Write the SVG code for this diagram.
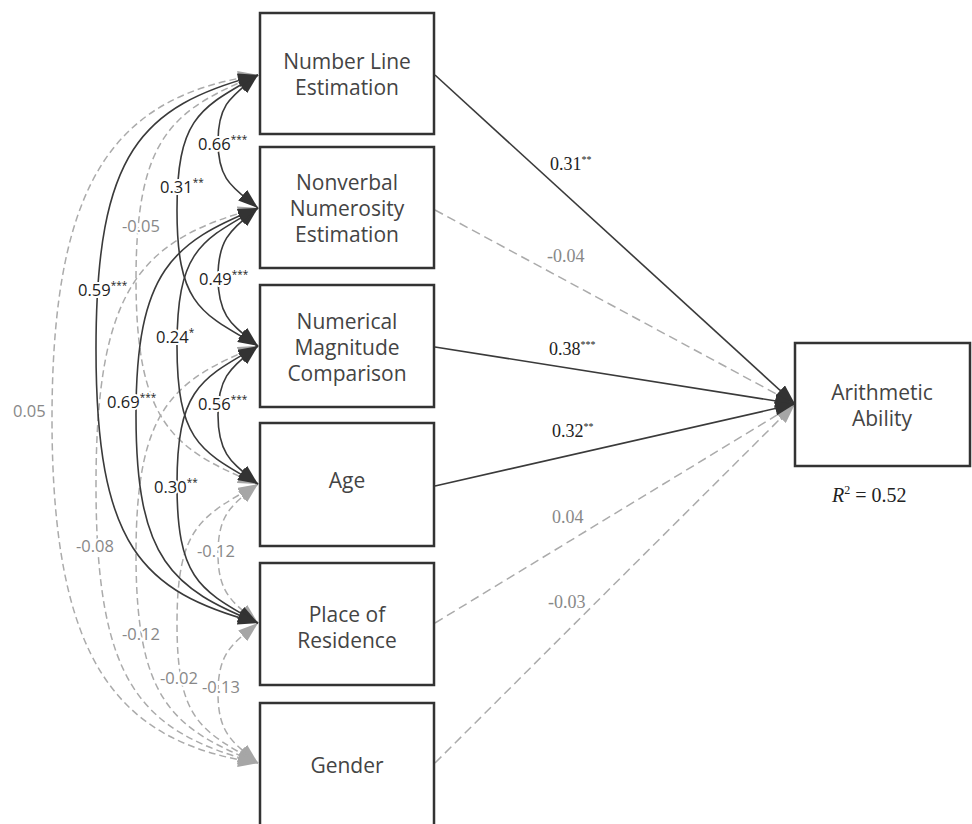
<svg xmlns="http://www.w3.org/2000/svg" width="972" height="824" viewBox="0 0 972 824">
<defs>
<style>
.box{fill:#fff;stroke:#333;stroke-width:2.5}
.nt{font-family:"Open Sans","Noto Sans",sans-serif;font-size:21px;fill:#444;text-anchor:middle}
.s{fill:none;stroke:#3a3a3a;stroke-width:1.6}
.d{fill:none;stroke:#ababab;stroke-width:1.5;stroke-dasharray:7 4}
.dr{fill:none;stroke:#ababab;stroke-width:1.5;stroke-dasharray:9 5}
.cs{marker-start:url(#hd);marker-end:url(#hd)}
.cd{marker-start:url(#hg);marker-end:url(#hg)}
.ls{font-family:"Open Sans","Noto Sans",sans-serif;font-size:16.5px;fill:#222;stroke:#fff;stroke-width:4;paint-order:stroke;stroke-linejoin:round}
.lg{font-family:"Open Sans","Noto Sans",sans-serif;font-size:16.5px;fill:#888;stroke:#fff;stroke-width:4;paint-order:stroke;stroke-linejoin:round}
.rs{font-family:"Liberation Serif","Times New Roman",serif;font-size:18px;fill:#222}
.rg{font-family:"Liberation Serif","Times New Roman",serif;font-size:18px;fill:#888}
.r2{font-family:"Liberation Serif","Times New Roman",serif;font-size:20px;fill:#222}
.sup{font-size:10px}
.sup2{font-size:12px}
</style>
<marker id="hd" viewBox="0 0 20 14" refX="20" refY="7" markerWidth="20" markerHeight="14" markerUnits="userSpaceOnUse" orient="auto-start-reverse"><path d="M0,0 L20,7 L0,14 z" fill="#333"/></marker>
<marker id="hg" viewBox="0 0 20 14" refX="20" refY="7" markerWidth="20" markerHeight="14" markerUnits="userSpaceOnUse" orient="auto-start-reverse"><path d="M0,0 L20,7 L0,14 z" fill="#a6a6a6"/></marker>
</defs>
<rect width="972" height="824" fill="#fff"/>
<g id="connectors">
<path class="d cd" d="M258,484 C234,504.1 218,511.8 218,553.5 C218,595.2 234,602.9 258,623"/>
<path class="d cd" d="M258,623 C234,643.1 218,651 218,693 C218,735 234,742.9 258,763"/>
<path class="d cd" d="M258,484 C201.3,516.7 177,525.9 177,623.5 C177,721.2 201.3,730.3 258,763"/>
<path class="d cd" d="M258,75 C172.6,109.5 136,136.4 136,279.5 C136,422.7 172.6,449.5 258,484"/>
<path class="d cd" d="M258,346 C172.6,380.5 136,408.6 136,554.5 C136,700.5 172.6,728.5 258,763"/>
<path class="d cd" d="M258,208 C141.4,239.3 96,285.7 96,485.5 C96,685.3 141.4,731.7 258,763"/>
<path class="d cd" d="M258,75 C118,96 52,175 52,419 C52,663 118,742 258,763"/>
<path class="s cs" d="M258,75 C234,95.1 218,101.6 218,141.5 C218,181.4 234,187.9 258,208"/>
<path class="s cs" d="M258,208 C234,228.1 218,235.6 218,277 C218,318.4 234,325.9 258,346"/>
<path class="s cs" d="M258,346 C234,366.1 218,373.6 218,415 C218,456.4 234,463.9 258,484"/>
<path class="s cs" d="M258,75 C201.3,107.7 177,115.7 177,210.5 C177,305.4 201.3,313.3 258,346"/>
<path class="s cs" d="M258,208 C201.3,240.7 177,249.4 177,346 C177,442.6 201.3,451.3 258,484"/>
<path class="s cs" d="M258,346 C201.3,378.7 177,387.6 177,484.5 C177,581.5 201.3,590.3 258,623"/>
<path class="s cs" d="M258,208 C172.6,242.5 136,270.3 136,415.5 C136,560.8 172.6,588.5 258,623"/>
<path class="s cs" d="M258,75 C141.4,106.3 96,151.7 96,349 C96,546.3 141.4,591.7 258,623"/>
<path class="dr" marker-end="url(#hg)" d="M435,210 L795,404"/>
<path class="dr" marker-end="url(#hg)" d="M435,623 L795,404"/>
<path class="dr" marker-end="url(#hg)" d="M435,763 L795,404"/>
<path class="s" marker-end="url(#hd)" d="M435,75 L795,404"/>
<path class="s" marker-end="url(#hd)" d="M435,347 L795,404"/>
<path class="s" marker-end="url(#hd)" d="M435,486 L795,404"/>
<text class="ls" x="198" y="150">0.66<tspan class="sup" dy="-7">***</tspan></text>
<text class="ls" x="160" y="193">0.31<tspan class="sup" dy="-7">**</tspan></text>
<text class="lg" x="122" y="232">-0.05</text>
<text class="ls" x="199" y="285">0.49<tspan class="sup" dy="-7">***</tspan></text>
<text class="ls" x="78" y="296">0.59<tspan class="sup" dy="-7">***</tspan></text>
<text class="ls" x="156" y="343">0.24<tspan class="sup" dy="-7">*</tspan></text>
<text class="ls" x="107" y="408">0.69<tspan class="sup" dy="-7">***</tspan></text>
<text class="ls" x="198" y="410">0.56<tspan class="sup" dy="-7">***</tspan></text>
<text class="lg" x="13" y="417">0.05</text>
<text class="ls" x="154" y="493">0.30<tspan class="sup" dy="-7">**</tspan></text>
<text class="lg" x="76" y="552">-0.08</text>
<text class="lg" x="197" y="557">-0.12</text>
<text class="lg" x="122" y="640">-0.12</text>
<text class="lg" x="160" y="684">-0.02</text>
<text class="lg" x="202" y="693">-0.13</text>
<text class="rs" x="550" y="170">0.31<tspan class="sup" dy="-7">**</tspan></text>
<text class="rg" x="547" y="262">-0.04</text>
<text class="rs" x="549" y="355">0.38<tspan class="sup" dy="-7">***</tspan></text>
<text class="rs" x="552" y="437">0.32<tspan class="sup" dy="-7">**</tspan></text>
<text class="rg" x="552" y="523">0.04</text>
<text class="rg" x="548" y="608">-0.03</text>
</g>
<g id="nle"><rect class="box" x="260" y="13" width="174" height="121"/><text class="nt" x="347" y="69">Number Line</text><text class="nt" x="347" y="95">Estimation</text></g>
<g id="nne"><rect class="box" x="260" y="147" width="174" height="121"/><text class="nt" x="347" y="190">Nonverbal</text><text class="nt" x="347" y="216">Numerosity</text><text class="nt" x="347" y="242">Estimation</text></g>
<g id="nmc"><rect class="box" x="260" y="285" width="174" height="122"/><text class="nt" x="347" y="329">Numerical</text><text class="nt" x="347" y="355">Magnitude</text><text class="nt" x="347" y="381">Comparison</text></g>
<g id="age"><rect class="box" x="260" y="423" width="174" height="123"/><text class="nt" x="347" y="488">Age</text></g>
<g id="residence"><rect class="box" x="260" y="563" width="174" height="122"/><text class="nt" x="347" y="622">Place of</text><text class="nt" x="347" y="648">Residence</text></g>
<g id="gender"><rect class="box" x="260" y="703" width="174" height="130"/><text class="nt" x="347" y="773">Gender</text></g>
<g id="arith"><rect class="box" x="795" y="343" width="175" height="123"/><text class="nt" x="882" y="400">Arithmetic</text><text class="nt" x="882" y="426">Ability</text>
<text class="r2" x="832" y="502"><tspan font-style="italic">R</tspan><tspan class="sup2" dy="-8">2</tspan><tspan dy="8"> = 0.52</tspan></text></g>
</svg>
